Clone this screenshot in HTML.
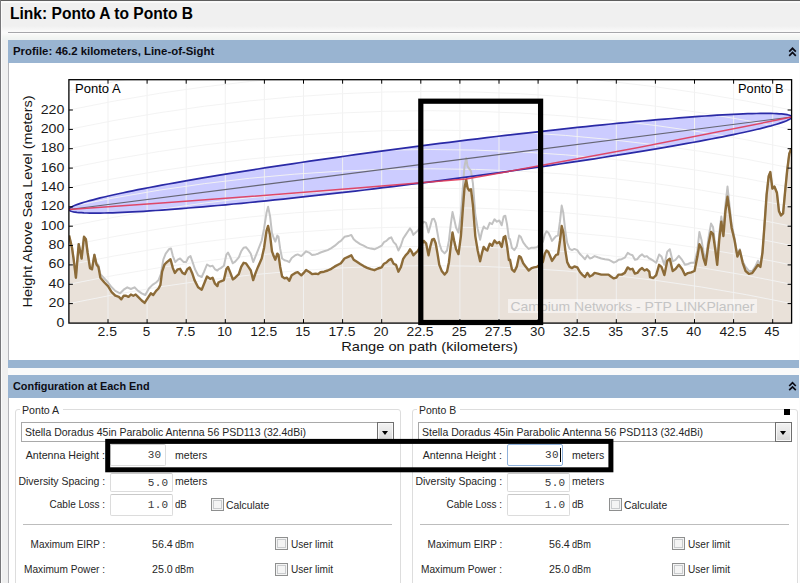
<!DOCTYPE html>
<html><head><meta charset="utf-8"><title>Link: Ponto A to Ponto B</title>
<style>
html,body{margin:0;padding:0;}
body{width:800px;height:583px;overflow:hidden;background:#f0f0f0;font-family:"Liberation Sans",sans-serif;position:relative;color:#000;}
#root{position:absolute;left:0;top:0;width:800px;height:583px;overflow:hidden;background:#f0f0f0;}
#root div{position:absolute;box-sizing:border-box;}
.rstrip{left:799px;top:33px;width:1px;height:550px;background:#fcfcfc;}
.topline2{left:1px;top:1px;width:799px;height:1.5px;background:#f9f9f9;}
.topline{left:0;top:0;width:800px;height:1px;background:#5e5e5e;}
.leftline{left:0;top:0;width:1px;height:583px;background:#77777a;}
.leftstrip{left:1px;top:1px;width:1px;height:583px;background:#fbfbfb;}
.title{font-size:15.8px !important;font-weight:bold;color:#000 !important;}
.hrbg{left:2px;top:26px;width:798px;height:14px;background:linear-gradient(#f0f0f0,#f9f9f9 36%,#fbfbfb 50%,#f4f6f4 75%,#eef2f2);}
.hr{left:8px;top:31.7px;width:792px;height:1px;background:#a6a6aa;}
.hr2{left:8px;top:33px;width:792px;height:1px;background:#fdfdfd;}
.hdr{left:8px;width:791px;background:#99b4d1;font-size:11px;font-weight:bold;white-space:nowrap;}
.hb{font-weight:bold;color:#0c0c14 !important;}
.panel{left:8px;width:791px;background:#fff;border-left:1px solid #b4b4b8;}
.chev{width:8px;height:10px;}
.gb{top:409.3px;height:200px;border:1px solid #dddddd;border-radius:3px;}
.lgbg{top:405px;height:10px;background:#fff;}
.cb{top:422px;height:20px;border:1px solid #a9a9a9;background:#fff;}
.cb .btn{right:-1px;top:-1px;width:17.5px;height:20px;border:1px solid #6f6f6f;background:linear-gradient(#f3f3f3,#e6e6e6 50%,#d6d6d6);box-shadow:inset 0 0 0 1px #f8f8f8;}
.cb .btn i{position:absolute;left:4px;top:7.5px;width:0;height:0;border-left:3.5px solid transparent;border-right:3.5px solid transparent;border-top:4px solid #000;}
.tx{font-size:11px;line-height:16px;white-space:nowrap;color:#262626;}
.in{border:1px solid #dcdcdc;border-top-color:#c9c9c9;border-radius:2px;background:#fff;font-family:"Liberation Mono",monospace;font-size:11px;text-align:right;padding-right:3px;color:#3a3a3a;letter-spacing:0.3px;}
.in.foc{border-color:#8fb2dc;padding-right:1.2px;}
.in b{display:inline-block;width:1px;height:14px;background:#000;vertical-align:middle;margin-left:1px;}
.ck{width:13px;height:13px;border:1px solid #8e8f8f;background:#f4f4f4;box-shadow:inset 0 0 0 1px #f4f4f4, inset 0 0 0 2px #c9cbcd;}
.sep{top:524px;height:1px;background:#bdbdbd;}
.ann{border:4.5px solid #000;}
.sq{left:784px;top:409px;width:6px;height:6px;background:#000;}
</style></head><body>
<div id="root">
<div class="rstrip"></div><div class="topline"></div><div class="topline2"></div><div class="leftline"></div><div class="leftstrip"></div>
<div class="tx title" id="ttl" style="top:6.3px;left:9.7px;transform-origin:0 50%;transform:scaleX(0.9853);">Link: Ponto A to Ponto B</div>
<div class="hrbg"></div><div class="hr"></div><div class="hr2"></div>
<div class="hdr" style="top:40px;height:22.5px"></div>
<div class="tx hb" id="h1" style="top:43.0px;left:13.2px;transform-origin:0 50%;transform:scaleX(1.0351);">Profile: 46.2 kilometers, Line-of-Sight</div>
<div class="panel" style="top:63px;height:297px"></div>
<div class="hdr" style="top:360px;height:8px"></div>
<div class="panel" style="top:368px;height:7px;background:#fafafa;border-left:none"></div>
<div class="hdr" style="top:375px;height:23px"></div>
<div class="tx hb" id="h2" style="top:377.8px;left:13.4px;transform-origin:0 50%;transform:scaleX(0.9890);">Configuration at Each End</div>
<div class="panel" style="top:397.5px;height:186px"></div>
<div class="gb" style="left:14.8px;width:386.0px"></div>
<div class="lgbg" style="left:20.0px;width:43px"></div>
<div class="tx" id="alg" style="top:401.9px;left:22.0px;transform-origin:0 50%;transform:scaleX(0.9651);">Ponto A</div>
<div class="cb" style="left:21.0px;width:373.0px"><div class="btn"><i></i></div></div>
<div class="tx" id="acb" style="top:424.4px;left:25.2px;transform-origin:0 50%;transform:scaleX(0.9540);">Stella Doradus 45in Parabolic Antenna 56 PSD113 (32.4dBi)</div>
<div class="tx" id="al0" style="top:446.9px;right:695.0px;transform-origin:100% 50%;transform:scaleX(0.9676);">Antenna Height :</div>
<div class="in" style="left:110.0px;top:444.0px;width:55.5px;height:21.5px;line-height:20.5px">30</div>
<div class="tx" id="au0" style="top:446.9px;left:174.8px;transform-origin:0 50%;transform:scaleX(0.9576);">meters</div>
<div class="tx" id="al1" style="top:472.9px;right:694.9px;transform-origin:100% 50%;transform:scaleX(0.9507);">Diversity Spacing :</div>
<div class="in" style="left:110.0px;top:472.5px;width:62.5px;height:19.0px;line-height:18.0px">5.0</div>
<div class="tx" id="au1" style="top:472.9px;left:174.8px;transform-origin:0 50%;transform:scaleX(0.9576);">meters</div>
<div class="tx" id="al2" style="top:496.4px;right:694.9px;transform-origin:100% 50%;transform:scaleX(0.9091);">Cable Loss :</div>
<div class="in" style="left:110.0px;top:494.0px;width:62.5px;height:21.5px;line-height:20.5px">1.0</div>
<div class="tx" id="au2" style="top:496.4px;left:174.8px;transform-origin:0 50%;transform:scaleX(0.8761);">dB</div>
<div class="ck" style="left:210.7px;top:498px"></div>
<div class="tx" id="acalc" style="top:497.1px;left:225.8px;transform-origin:0 50%;transform:scaleX(0.9420);">Calculate</div>
<div class="sep" style="left:23.0px;width:368.5px"></div>
<div class="tx" id="am0" style="top:535.9px;right:694.9px;transform-origin:100% 50%;transform:scaleX(0.9075);">Maximum EIRP :</div>
<div class="tx" id="av0" style="top:535.9px;left:151.7px;transform-origin:0 50%;transform:scaleX(0.9710);">56.4</div>
<div class="tx" id="ad0" style="top:535.9px;left:175.0px;transform-origin:0 50%;transform:scaleX(0.8309);">dBm</div>
<div class="ck" style="left:275.0px;top:537.4px"></div>
<div class="tx" id="aul0" style="top:535.9px;left:291.0px;transform-origin:0 50%;transform:scaleX(0.9162);">User limit</div>
<div class="tx" id="am1" style="top:561.4px;right:694.9px;transform-origin:100% 50%;transform:scaleX(0.9201);">Maximum Power :</div>
<div class="tx" id="av1" style="top:561.4px;left:151.7px;transform-origin:0 50%;transform:scaleX(0.9710);">25.0</div>
<div class="tx" id="ad1" style="top:561.4px;left:175.0px;transform-origin:0 50%;transform:scaleX(0.8309);">dBm</div>
<div class="ck" style="left:275.0px;top:562.9px"></div>
<div class="tx" id="aul1" style="top:561.4px;left:291.0px;transform-origin:0 50%;transform:scaleX(0.9162);">User limit</div>
<div class="gb" style="left:411.8px;width:386.2px"></div>
<div class="lgbg" style="left:417.0px;width:43px"></div>
<div class="tx" id="blg" style="top:401.9px;left:419.0px;transform-origin:0 50%;transform:scaleX(0.9504);">Ponto B</div>
<div class="cb" style="left:418.0px;width:374.0px"><div class="btn"><i></i></div></div>
<div class="tx" id="bcb" style="top:424.4px;left:422.2px;transform-origin:0 50%;transform:scaleX(0.9540);">Stella Doradus 45in Parabolic Antenna 56 PSD113 (32.4dBi)</div>
<div class="tx" id="bl0" style="top:446.9px;right:298.0px;transform-origin:100% 50%;transform:scaleX(0.9676);">Antenna Height :</div>
<div class="in foc" style="left:507.0px;top:444.0px;width:56.0px;height:21.5px;line-height:20.5px">30<b></b></div>
<div class="tx" id="bu0" style="top:446.9px;left:571.8px;transform-origin:0 50%;transform:scaleX(0.9576);">meters</div>
<div class="tx" id="bl1" style="top:472.9px;right:297.9px;transform-origin:100% 50%;transform:scaleX(0.9507);">Diversity Spacing :</div>
<div class="in" style="left:507.0px;top:472.5px;width:62.5px;height:19.0px;line-height:18.0px">5.0</div>
<div class="tx" id="bu1" style="top:472.9px;left:571.8px;transform-origin:0 50%;transform:scaleX(0.9576);">meters</div>
<div class="tx" id="bl2" style="top:496.4px;right:297.9px;transform-origin:100% 50%;transform:scaleX(0.9091);">Cable Loss :</div>
<div class="in" style="left:507.0px;top:494.0px;width:62.5px;height:21.5px;line-height:20.5px">1.0</div>
<div class="tx" id="bu2" style="top:496.4px;left:571.8px;transform-origin:0 50%;transform:scaleX(0.8761);">dB</div>
<div class="ck" style="left:608.5px;top:498px"></div>
<div class="tx" id="bcalc" style="top:497.1px;left:623.6px;transform-origin:0 50%;transform:scaleX(0.9420);">Calculate</div>
<div class="sep" style="left:420.0px;width:368.5px"></div>
<div class="tx" id="bm0" style="top:535.9px;right:297.9px;transform-origin:100% 50%;transform:scaleX(0.9075);">Maximum EIRP :</div>
<div class="tx" id="bv0" style="top:535.9px;left:548.7px;transform-origin:0 50%;transform:scaleX(0.9710);">56.4</div>
<div class="tx" id="bd0" style="top:535.9px;left:572.0px;transform-origin:0 50%;transform:scaleX(0.8309);">dBm</div>
<div class="ck" style="left:671.8px;top:537.4px"></div>
<div class="tx" id="bul0" style="top:535.9px;left:687.8px;transform-origin:0 50%;transform:scaleX(0.9162);">User limit</div>
<div class="tx" id="bm1" style="top:561.4px;right:297.9px;transform-origin:100% 50%;transform:scaleX(0.9201);">Maximum Power :</div>
<div class="tx" id="bv1" style="top:561.4px;left:548.7px;transform-origin:0 50%;transform:scaleX(0.9710);">25.0</div>
<div class="tx" id="bd1" style="top:561.4px;left:572.0px;transform-origin:0 50%;transform:scaleX(0.8309);">dBm</div>
<div class="ck" style="left:671.8px;top:562.9px"></div>
<div class="tx" id="bul1" style="top:561.4px;left:687.8px;transform-origin:0 50%;transform:scaleX(0.9162);">User limit</div>
<div class="sq"></div>
<svg width="800" height="583" viewBox="0 0 800 583" style="position:absolute;left:0;top:0">
<defs><clipPath id="cp"><rect x="68.9" y="79.7" width="722.7" height="243.4"/></clipPath></defs>
<rect x="68.9" y="79.7" width="722.7" height="243.4" fill="#fff"/>
<g clip-path="url(#cp)">
<path d="M68.9,323.1 L69.1,235.6 L72.0,247.7 L73.7,259.7 L75.9,277.7 L78.7,244.1 L81.6,258.5 L84.0,236.8 L85.9,239.2 L87.6,252.5 L90.0,268.1 L92.0,269.3 L94.4,254.9 L96.5,264.5 L98.4,266.9 L100.4,277.7 L104.4,282.5 L108.0,286.1 L111.7,292.1 L115.3,295.7 L118.9,296.9 L121.3,299.3 L123.7,295.7 L126.1,295.7 L128.5,296.9 L130.9,294.5 L133.3,295.7 L135.7,294.5 L138.1,296.9 L141.7,300.5 L144.6,302.9 L147.7,298.1 L150.8,293.3 L153.2,295.0 L156.1,290.9 L158.5,288.5 L160.4,284.9 L162.1,271.7 L164.5,264.5 L166.9,262.1 L170.5,259.2 L172.9,268.1 L174.8,272.9 L177.7,269.3 L180.1,268.8 L182.5,272.9 L184.9,274.1 L187.3,269.3 L189.7,267.4 L192.1,272.9 L194.5,280.1 L198.1,287.3 L201.7,289.7 L204.1,283.7 L207.0,276.5 L210.2,278.9 L212.6,277.7 L215.0,283.7 L217.4,286.1 L218.4,282.5 L220.8,281.3 L223.9,280.1 L226.3,269.3 L228.0,266.9 L230.4,272.9 L232.8,279.4 L235.2,277.7 L238.8,274.1 L241.2,266.9 L243.6,262.8 L246.0,263.3 L248.4,266.9 L250.8,270.5 L253.2,280.1 L255.6,272.9 L258.0,266.9 L261.7,258.5 L264.1,247.7 L266.5,230.8 L268.1,226.0 L270.1,235.6 L272.0,251.3 L273.7,256.1 L275.3,259.7 L277.3,253.7 L278.5,254.9 L280.2,266.9 L282.1,276.5 L284.5,278.4 L286.9,277.7 L289.3,280.8 L291.7,275.3 L295.3,272.9 L297.7,272.2 L301.3,275.3 L303.7,272.9 L306.1,270.0 L309.7,272.2 L312.1,274.1 L315.7,273.6 L318.1,274.1 L320.5,272.2 L324.1,271.7 L327.7,270.5 L331.3,268.8 L334.9,266.4 L338.5,264.5 L340.9,263.3 L344.5,258.5 L348.1,256.8 L351.3,255.3 L353.7,259.7 L356.5,261.6 L360.2,264.0 L363.6,266.1 L367.2,267.8 L370.8,269.2 L374.4,270.2 L378.0,268.5 L381.6,267.3 L384.0,263.7 L386.4,262.5 L388.8,260.1 L391.2,258.9 L393.6,263.7 L396.0,264.9 L398.4,271.7 L400.8,267.3 L403.2,258.9 L405.6,255.3 L408.0,252.9 L410.0,249.3 L411.7,251.7 L413.3,255.3 L415.7,252.9 L417.7,251.0 L423.7,240.9 L426.1,243.3 L428.5,255.3 L430.2,246.9 L432.1,239.7 L434.0,239.0 L435.7,243.3 L437.4,252.9 L439.3,264.9 L441.7,270.9 L444.6,274.5 L447.0,271.7 L448.9,262.5 L450.8,245.7 L452.5,232.5 L454.2,240.9 L456.1,249.3 L458.5,254.1 L460.9,236.1 L462.8,209.7 L464.5,188.0 L466.2,179.6 L467.6,188.0 L469.3,190.5 L471.0,189.2 L472.9,204.9 L475.3,236.1 L477.7,250.5 L480.1,261.3 L482.0,252.9 L483.7,246.9 L485.4,249.3 L487.3,250.5 L489.7,243.8 L492.1,245.7 L494.5,240.4 L496.9,243.3 L499.3,242.1 L501.7,246.9 L503.7,237.3 L505.3,236.1 L507.0,245.7 L508.9,260.1 L510.0,259.7 L511.9,269.3 L514.3,271.7 L516.7,266.9 L519.1,256.1 L520.8,257.3 L523.2,263.3 L525.6,266.4 L528.7,270.5 L531.6,268.1 L534.0,267.4 L536.9,266.9 L542.9,262.1 L544.8,253.7 L546.5,250.5 L548.4,252.0 L550.4,256.8 L552.0,260.9 L554.4,257.3 L556.1,254.9 L558.0,254.4 L560.0,240.5 L561.7,226.0 L563.3,232.0 L565.3,250.1 L567.2,262.1 L569.6,266.9 L572.0,268.1 L574.4,266.4 L577.3,267.4 L579.7,271.7 L582.1,274.6 L585.0,277.0 L587.4,272.9 L589.8,276.5 L592.2,275.3 L594.6,272.9 L597.7,273.6 L601.3,274.6 L604.9,274.6 L608.5,274.6 L610.9,276.5 L613.8,278.4 L616.2,277.7 L618.6,274.6 L621.7,274.6 L624.8,272.9 L627.7,267.4 L630.1,269.3 L632.5,268.8 L634.9,273.6 L637.3,272.9 L639.7,269.8 L642.1,268.1 L644.5,270.5 L646.9,269.3 L649.3,271.7 L650.0,277.2 L653.3,278.0 L656.2,275.1 L659.1,264.8 L661.5,266.9 L664.4,275.1 L667.3,260.7 L669.8,258.7 L672.7,271.0 L675.5,269.0 L678.8,264.8 L682.1,269.0 L685.0,275.1 L687.9,273.1 L691.2,272.3 L694.5,271.0 L697.4,256.6 L699.4,244.2 L701.5,248.3 L703.6,258.7 L705.6,264.8 L708.5,244.2 L711.0,231.9 L713.0,233.9 L715.1,248.3 L717.2,264.8 L719.2,240.1 L721.3,221.6 L723.4,236.0 L725.4,211.3 L727.5,196.8 L729.5,211.3 L731.6,227.7 L734.5,240.1 L737.4,256.6 L739.8,250.4 L742.7,262.8 L745.6,271.0 L748.9,273.9 L752.2,273.1 L755.1,269.0 L758.0,264.8 L760.4,266.9 L762.5,252.5 L764.6,223.6 L766.6,194.8 L768.7,176.2 L770.3,172.1 L772.4,188.6 L774.4,186.5 L776.9,192.7 L779.0,211.3 L781.0,215.4 L783.1,213.3 L785.2,190.7 L787.2,170.1 L789.3,153.6 L791.3,148.6 L791.6,323.1Z" fill="#e9e1d9"/>
<path d="M69.0,209.5 L69.1,209.0 L69.5,208.5 L70.1,207.9 L71.0,207.3 L72.1,206.7 L73.4,206.0 L75.1,205.3 L76.9,204.6 L79.0,203.9 L81.3,203.1 L83.9,202.3 L86.7,201.5 L89.7,200.6 L93.0,199.8 L96.5,198.9 L100.2,197.9 L104.2,197.0 L108.4,196.0 L112.8,195.0 L117.4,194.0 L122.2,193.0 L127.3,191.9 L132.5,190.8 L138.0,189.7 L143.7,188.6 L149.5,187.5 L155.6,186.3 L161.8,185.2 L168.2,184.0 L174.8,182.8 L181.6,181.6 L188.5,180.4 L195.7,179.1 L202.9,177.9 L210.4,176.6 L217.9,175.4 L225.7,174.1 L233.5,172.8 L241.5,171.6 L249.6,170.3 L257.9,169.0 L266.3,167.7 L274.8,166.4 L283.3,165.1 L292.0,163.8 L300.8,162.5 L309.7,161.2 L318.7,159.9 L327.7,158.6 L336.8,157.3 L346.0,156.0 L355.2,154.7 L364.5,153.4 L373.8,152.1 L383.1,150.8 L392.5,149.6 L402.0,148.3 L411.4,147.1 L420.8,145.9 L430.3,144.7 L439.8,143.4 L449.2,142.3 L458.6,141.1 L468.1,139.9 L477.5,138.8 L486.8,137.6 L496.1,136.5 L505.4,135.4 L514.6,134.4 L523.8,133.3 L532.9,132.3 L541.9,131.3 L550.9,130.3 L559.8,129.3 L568.6,128.4 L577.3,127.4 L585.8,126.6 L594.3,125.7 L602.7,124.8 L610.9,124.0 L619.1,123.2 L627.1,122.5 L634.9,121.7 L642.7,121.0 L650.2,120.3 L657.7,119.7 L664.9,119.1 L672.1,118.5 L679.0,117.9 L685.8,117.4 L692.4,116.9 L698.8,116.4 L705.0,116.0 L711.1,115.6 L716.9,115.2 L722.6,114.9 L728.1,114.6 L733.3,114.3 L738.4,114.1 L743.2,113.9 L747.8,113.7 L752.2,113.6 L756.4,113.5 L760.4,113.4 L764.1,113.4 L767.6,113.4 L770.9,113.4 L773.9,113.5 L776.7,113.6 L779.3,113.8 L781.6,113.9 L783.7,114.1 L785.5,114.4 L787.2,114.7 L788.5,115.0 L789.6,115.3 L790.5,115.7 L791.1,116.1 L791.5,116.5 L791.6,117.0 L791.6,117.0 L791.5,117.5 L791.1,118.0 L790.5,118.6 L789.6,119.2 L788.5,119.8 L787.2,120.5 L785.5,121.2 L783.7,121.9 L781.6,122.6 L779.3,123.4 L776.7,124.2 L773.9,125.0 L770.9,125.9 L767.6,126.7 L764.1,127.6 L760.4,128.6 L756.4,129.5 L752.2,130.5 L747.8,131.5 L743.2,132.5 L738.4,133.5 L733.3,134.6 L728.1,135.7 L722.6,136.8 L716.9,137.9 L711.1,139.0 L705.0,140.2 L698.8,141.3 L692.4,142.5 L685.8,143.7 L679.0,144.9 L672.1,146.1 L664.9,147.4 L657.7,148.6 L650.2,149.9 L642.7,151.1 L634.9,152.4 L627.1,153.7 L619.1,154.9 L610.9,156.2 L602.7,157.5 L594.3,158.8 L585.8,160.1 L577.3,161.4 L568.6,162.7 L559.8,164.0 L550.9,165.3 L541.9,166.6 L532.9,167.9 L523.8,169.2 L514.6,170.5 L505.4,171.8 L496.1,173.1 L486.8,174.4 L477.5,175.7 L468.1,176.9 L458.6,178.2 L449.2,179.4 L439.8,180.6 L430.3,181.8 L420.8,183.1 L411.4,184.2 L402.0,185.4 L392.5,186.6 L383.1,187.7 L373.8,188.9 L364.5,190.0 L355.2,191.1 L346.0,192.1 L336.8,193.2 L327.7,194.2 L318.7,195.2 L309.7,196.2 L300.8,197.2 L292.0,198.1 L283.3,199.1 L274.8,199.9 L266.3,200.8 L257.9,201.7 L249.6,202.5 L241.5,203.3 L233.5,204.0 L225.7,204.8 L217.9,205.5 L210.4,206.2 L202.9,206.8 L195.7,207.4 L188.5,208.0 L181.6,208.6 L174.8,209.1 L168.2,209.6 L161.8,210.1 L155.6,210.5 L149.5,210.9 L143.7,211.3 L138.0,211.6 L132.5,211.9 L127.3,212.2 L122.2,212.4 L117.4,212.6 L112.8,212.8 L108.4,212.9 L104.2,213.0 L100.2,213.1 L96.5,213.1 L93.0,213.1 L89.7,213.1 L86.7,213.0 L83.9,212.9 L81.3,212.7 L79.0,212.6 L76.9,212.4 L75.1,212.1 L73.4,211.8 L72.1,211.5 L71.0,211.2 L70.1,210.8 L69.5,210.4 L69.1,210.0 L69.0,209.5Z" fill="#0000ff" fill-opacity="0.2" stroke="none"/>
<line x1="108.0" y1="79.7" x2="108.0" y2="323.1" stroke="#f0f0f0" stroke-opacity="0.95" stroke-width="1"/>
<line x1="147.1" y1="79.7" x2="147.1" y2="323.1" stroke="#f0f0f0" stroke-opacity="0.95" stroke-width="1"/>
<line x1="186.2" y1="79.7" x2="186.2" y2="323.1" stroke="#f0f0f0" stroke-opacity="0.95" stroke-width="1"/>
<line x1="225.3" y1="79.7" x2="225.3" y2="323.1" stroke="#f0f0f0" stroke-opacity="0.95" stroke-width="1"/>
<line x1="264.4" y1="79.7" x2="264.4" y2="323.1" stroke="#f0f0f0" stroke-opacity="0.95" stroke-width="1"/>
<line x1="303.5" y1="79.7" x2="303.5" y2="323.1" stroke="#f0f0f0" stroke-opacity="0.95" stroke-width="1"/>
<line x1="342.6" y1="79.7" x2="342.6" y2="323.1" stroke="#f0f0f0" stroke-opacity="0.95" stroke-width="1"/>
<line x1="381.7" y1="79.7" x2="381.7" y2="323.1" stroke="#f0f0f0" stroke-opacity="0.95" stroke-width="1"/>
<line x1="420.8" y1="79.7" x2="420.8" y2="323.1" stroke="#f0f0f0" stroke-opacity="0.95" stroke-width="1"/>
<line x1="459.9" y1="79.7" x2="459.9" y2="323.1" stroke="#f0f0f0" stroke-opacity="0.95" stroke-width="1"/>
<line x1="499.0" y1="79.7" x2="499.0" y2="323.1" stroke="#f0f0f0" stroke-opacity="0.95" stroke-width="1"/>
<line x1="538.1" y1="79.7" x2="538.1" y2="323.1" stroke="#f0f0f0" stroke-opacity="0.95" stroke-width="1"/>
<line x1="577.2" y1="79.7" x2="577.2" y2="323.1" stroke="#f0f0f0" stroke-opacity="0.95" stroke-width="1"/>
<line x1="616.3" y1="79.7" x2="616.3" y2="323.1" stroke="#f0f0f0" stroke-opacity="0.95" stroke-width="1"/>
<line x1="655.4" y1="79.7" x2="655.4" y2="323.1" stroke="#f0f0f0" stroke-opacity="0.95" stroke-width="1"/>
<line x1="694.5" y1="79.7" x2="694.5" y2="323.1" stroke="#f0f0f0" stroke-opacity="0.95" stroke-width="1"/>
<line x1="733.6" y1="79.7" x2="733.6" y2="323.1" stroke="#f0f0f0" stroke-opacity="0.95" stroke-width="1"/>
<line x1="772.7" y1="79.7" x2="772.7" y2="323.1" stroke="#f0f0f0" stroke-opacity="0.95" stroke-width="1"/>
<path d="M68.9,303.6 Q430.2,227.6 791.6,303.6" fill="none" stroke="#f2f2f2" stroke-opacity="0.95" stroke-width="1"/>
<path d="M68.9,284.3 Q430.2,208.3 791.6,284.3" fill="none" stroke="#f2f2f2" stroke-opacity="0.95" stroke-width="1"/>
<path d="M68.9,264.9 Q430.2,188.9 791.6,264.9" fill="none" stroke="#f2f2f2" stroke-opacity="0.95" stroke-width="1"/>
<path d="M68.9,245.5 Q430.2,169.5 791.6,245.5" fill="none" stroke="#f2f2f2" stroke-opacity="0.95" stroke-width="1"/>
<path d="M68.9,226.2 Q430.2,150.2 791.6,226.2" fill="none" stroke="#f2f2f2" stroke-opacity="0.95" stroke-width="1"/>
<path d="M68.9,206.8 Q430.2,130.8 791.6,206.8" fill="none" stroke="#f2f2f2" stroke-opacity="0.95" stroke-width="1"/>
<path d="M68.9,187.5 Q430.2,111.5 791.6,187.5" fill="none" stroke="#f2f2f2" stroke-opacity="0.95" stroke-width="1"/>
<path d="M68.9,168.1 Q430.2,92.1 791.6,168.1" fill="none" stroke="#f2f2f2" stroke-opacity="0.95" stroke-width="1"/>
<path d="M68.9,148.7 Q430.2,72.7 791.6,148.7" fill="none" stroke="#f2f2f2" stroke-opacity="0.95" stroke-width="1"/>
<path d="M68.9,129.4 Q430.2,53.4 791.6,129.4" fill="none" stroke="#f2f2f2" stroke-opacity="0.95" stroke-width="1"/>
<path d="M68.9,110.0 Q430.2,34.0 791.6,110.0" fill="none" stroke="#f2f2f2" stroke-opacity="0.95" stroke-width="1"/>
<path d="M68.9,90.6 Q430.2,14.6 791.6,90.6" fill="none" stroke="#f2f2f2" stroke-opacity="0.95" stroke-width="1"/>
<path d="M68.9,71.3 Q430.2,-4.7 791.6,71.3" fill="none" stroke="#f2f2f2" stroke-opacity="0.95" stroke-width="1"/>
<path d="M68.9,51.9 Q430.2,-24.1 791.6,51.9" fill="none" stroke="#f2f2f2" stroke-opacity="0.95" stroke-width="1"/>
<path d="M68.9,32.5 Q430.2,-43.5 791.6,32.5" fill="none" stroke="#f2f2f2" stroke-opacity="0.95" stroke-width="1"/>
<path d="M68.9,13.2 Q430.2,-62.8 791.6,13.2" fill="none" stroke="#f2f2f2" stroke-opacity="0.95" stroke-width="1"/>
<path d="M68.9,-6.2 Q430.2,-82.2 791.6,-6.2" fill="none" stroke="#f2f2f2" stroke-opacity="0.95" stroke-width="1"/>
<path d="M68.9,-25.6 Q430.2,-101.6 791.6,-25.6" fill="none" stroke="#f2f2f2" stroke-opacity="0.95" stroke-width="1"/>
<path d="M68.9,-44.9 Q430.2,-120.9 791.6,-44.9" fill="none" stroke="#f2f2f2" stroke-opacity="0.95" stroke-width="1"/>
<path d="M69.1,235.6 L72.0,247.7 L73.7,259.7 L75.9,277.7 L78.7,244.1 L81.6,258.5 L84.0,236.8 L85.9,239.2 L87.6,252.5 L90.0,268.1 L92.0,269.3 L94.4,254.4 L96.5,263.3 L98.4,265.0 L100.4,274.1 L108.0,282.5 L111.7,287.3 L115.3,290.9 L120.1,293.3 L123.7,289.7 L127.3,287.3 L130.9,289.0 L134.5,287.3 L138.1,290.9 L141.7,293.3 L145.3,295.0 L148.9,288.5 L152.5,284.9 L156.1,282.5 L158.5,280.1 L160.9,274.1 L163.3,259.7 L165.7,253.7 L169.3,248.9 L171.0,248.4 L172.9,256.1 L175.3,262.1 L177.7,259.7 L180.1,258.5 L183.7,262.1 L186.1,262.1 L188.5,257.3 L190.5,256.1 L192.6,262.1 L195.0,269.3 L198.1,275.3 L201.7,277.0 L204.1,271.7 L207.0,264.5 L210.2,266.4 L212.6,265.7 L215.0,269.3 L217.4,270.5 L218.4,269.3 L220.8,268.1 L223.9,265.7 L226.3,254.9 L228.0,252.5 L230.4,257.3 L232.8,263.3 L235.2,261.6 L238.8,257.3 L241.2,251.3 L243.6,247.7 L246.0,247.2 L248.4,250.1 L250.8,253.7 L253.2,262.1 L255.6,256.1 L258.0,250.1 L261.7,240.5 L264.1,228.4 L266.5,212.8 L268.1,206.8 L270.1,216.4 L272.0,233.2 L273.7,238.0 L275.3,241.7 L277.3,235.6 L278.5,236.8 L280.2,248.9 L282.1,258.5 L284.5,260.2 L286.9,260.9 L289.3,262.1 L291.7,258.0 L295.3,255.3 L297.7,254.4 L301.3,256.1 L303.7,253.7 L306.1,251.3 L309.7,252.9 L312.1,254.9 L315.7,254.4 L318.1,253.7 L320.5,252.5 L324.1,251.3 L327.7,250.1 L331.3,248.1 L334.9,245.7 L338.5,242.4 L340.9,240.9 L344.5,236.8 L348.1,236.1 L351.3,234.9 L353.7,239.2 L356.5,241.7 L360.2,244.1 L363.6,245.7 L367.2,247.6 L370.8,248.6 L374.4,249.3 L378.0,247.6 L381.6,245.7 L384.0,242.1 L386.4,240.9 L388.8,238.5 L391.2,237.3 L393.6,242.1 L396.0,244.5 L398.4,250.5 L400.8,245.7 L403.2,238.5 L405.6,234.9 L408.0,231.3 L410.0,228.4 L411.7,230.8 L413.3,234.9 L415.7,232.5 L417.7,230.8 L423.7,221.7 L426.1,222.9 L428.5,232.5 L430.2,226.5 L432.1,219.3 L434.0,218.8 L435.7,222.9 L437.4,232.5 L439.3,243.3 L441.7,250.5 L444.6,253.4 L447.0,250.5 L448.9,240.9 L450.8,224.1 L452.5,212.1 L454.2,219.3 L456.1,227.7 L458.5,232.5 L460.9,214.5 L462.8,188.0 L464.5,166.4 L466.2,158.0 L467.6,166.4 L469.3,168.8 L471.0,171.2 L472.9,183.2 L475.3,214.5 L477.7,228.9 L480.1,239.7 L482.0,231.3 L483.7,226.5 L485.4,228.4 L487.3,228.9 L489.7,222.9 L492.1,224.1 L494.5,219.3 L496.9,221.7 L499.3,220.5 L501.7,225.3 L503.7,216.4 L505.3,215.7 L507.0,224.1 L508.9,238.5 L510.0,239.2 L511.9,247.7 L514.3,250.1 L516.7,246.5 L519.1,235.6 L520.8,236.8 L523.2,242.4 L525.6,245.7 L528.7,248.9 L531.6,247.7 L534.0,247.7 L536.9,247.2 L542.9,241.7 L544.8,234.4 L546.5,231.3 L548.4,232.8 L550.4,236.8 L552.0,240.9 L554.4,238.0 L556.1,236.1 L558.0,235.6 L560.0,221.2 L561.7,205.6 L563.3,212.8 L565.3,230.8 L567.2,242.9 L569.6,248.9 L572.0,250.1 L574.4,248.9 L577.3,250.1 L579.7,253.7 L582.1,256.1 L585.0,259.2 L587.4,255.3 L589.8,258.5 L592.2,257.7 L594.6,256.1 L597.7,257.3 L601.3,258.5 L604.9,259.2 L608.5,259.7 L610.9,260.9 L613.8,262.6 L616.2,261.6 L618.6,259.7 L621.7,259.2 L624.8,257.7 L627.7,252.9 L630.1,254.4 L632.5,255.3 L634.9,259.7 L637.3,259.2 L639.7,256.1 L642.1,254.4 L644.5,256.8 L646.9,256.1 L649.3,258.5 L650.0,258.7 L653.3,260.7 L656.2,262.8 L659.1,254.5 L661.5,256.6 L664.4,264.8 L667.3,251.6 L669.8,249.2 L672.7,261.5 L675.5,259.9 L678.8,255.8 L682.1,259.9 L685.0,264.8 L687.9,264.0 L691.2,262.8 L694.5,262.8 L697.4,250.4 L699.4,231.9 L701.5,240.1 L703.6,252.5 L705.6,260.7 L708.5,238.0 L711.0,223.6 L713.0,226.9 L715.1,244.2 L717.2,260.7 L719.2,233.9 L721.3,216.6 L723.4,231.0 L725.4,205.1 L727.5,186.5 L729.5,205.1 L731.6,223.6 L734.5,238.0 L737.4,255.8 L739.8,249.2 L742.7,261.5 L745.6,266.9 L748.9,271.0 L752.2,271.0 L755.1,266.9 L758.0,260.7 L760.4,264.8 L762.5,251.6 L764.6,223.6 L766.6,194.8 L768.7,176.2 L770.3,172.1 L772.4,188.6 L774.4,186.5 L776.9,192.7 L779.0,211.3 L781.0,215.4 L783.1,213.3 L785.2,190.7 L787.2,170.1 L789.3,153.6 L791.3,148.6" fill="none" stroke="#c2c2c2" stroke-width="2" stroke-linejoin="round"/>
<path d="M69.1,235.6 L72.0,247.7 L73.7,259.7 L75.9,277.7 L78.7,244.1 L81.6,258.5 L84.0,236.8 L85.9,239.2 L87.6,252.5 L90.0,268.1 L92.0,269.3 L94.4,254.9 L96.5,264.5 L98.4,266.9 L100.4,277.7 L104.4,282.5 L108.0,286.1 L111.7,292.1 L115.3,295.7 L118.9,296.9 L121.3,299.3 L123.7,295.7 L126.1,295.7 L128.5,296.9 L130.9,294.5 L133.3,295.7 L135.7,294.5 L138.1,296.9 L141.7,300.5 L144.6,302.9 L147.7,298.1 L150.8,293.3 L153.2,295.0 L156.1,290.9 L158.5,288.5 L160.4,284.9 L162.1,271.7 L164.5,264.5 L166.9,262.1 L170.5,259.2 L172.9,268.1 L174.8,272.9 L177.7,269.3 L180.1,268.8 L182.5,272.9 L184.9,274.1 L187.3,269.3 L189.7,267.4 L192.1,272.9 L194.5,280.1 L198.1,287.3 L201.7,289.7 L204.1,283.7 L207.0,276.5 L210.2,278.9 L212.6,277.7 L215.0,283.7 L217.4,286.1 L218.4,282.5 L220.8,281.3 L223.9,280.1 L226.3,269.3 L228.0,266.9 L230.4,272.9 L232.8,279.4 L235.2,277.7 L238.8,274.1 L241.2,266.9 L243.6,262.8 L246.0,263.3 L248.4,266.9 L250.8,270.5 L253.2,280.1 L255.6,272.9 L258.0,266.9 L261.7,258.5 L264.1,247.7 L266.5,230.8 L268.1,226.0 L270.1,235.6 L272.0,251.3 L273.7,256.1 L275.3,259.7 L277.3,253.7 L278.5,254.9 L280.2,266.9 L282.1,276.5 L284.5,278.4 L286.9,277.7 L289.3,280.8 L291.7,275.3 L295.3,272.9 L297.7,272.2 L301.3,275.3 L303.7,272.9 L306.1,270.0 L309.7,272.2 L312.1,274.1 L315.7,273.6 L318.1,274.1 L320.5,272.2 L324.1,271.7 L327.7,270.5 L331.3,268.8 L334.9,266.4 L338.5,264.5 L340.9,263.3 L344.5,258.5 L348.1,256.8 L351.3,255.3 L353.7,259.7 L356.5,261.6 L360.2,264.0 L363.6,266.1 L367.2,267.8 L370.8,269.2 L374.4,270.2 L378.0,268.5 L381.6,267.3 L384.0,263.7 L386.4,262.5 L388.8,260.1 L391.2,258.9 L393.6,263.7 L396.0,264.9 L398.4,271.7 L400.8,267.3 L403.2,258.9 L405.6,255.3 L408.0,252.9 L410.0,249.3 L411.7,251.7 L413.3,255.3 L415.7,252.9 L417.7,251.0 L423.7,240.9 L426.1,243.3 L428.5,255.3 L430.2,246.9 L432.1,239.7 L434.0,239.0 L435.7,243.3 L437.4,252.9 L439.3,264.9 L441.7,270.9 L444.6,274.5 L447.0,271.7 L448.9,262.5 L450.8,245.7 L452.5,232.5 L454.2,240.9 L456.1,249.3 L458.5,254.1 L460.9,236.1 L462.8,209.7 L464.5,188.0 L466.2,179.6 L467.6,188.0 L469.3,190.5 L471.0,189.2 L472.9,204.9 L475.3,236.1 L477.7,250.5 L480.1,261.3 L482.0,252.9 L483.7,246.9 L485.4,249.3 L487.3,250.5 L489.7,243.8 L492.1,245.7 L494.5,240.4 L496.9,243.3 L499.3,242.1 L501.7,246.9 L503.7,237.3 L505.3,236.1 L507.0,245.7 L508.9,260.1 L510.0,259.7 L511.9,269.3 L514.3,271.7 L516.7,266.9 L519.1,256.1 L520.8,257.3 L523.2,263.3 L525.6,266.4 L528.7,270.5 L531.6,268.1 L534.0,267.4 L536.9,266.9 L542.9,262.1 L544.8,253.7 L546.5,250.5 L548.4,252.0 L550.4,256.8 L552.0,260.9 L554.4,257.3 L556.1,254.9 L558.0,254.4 L560.0,240.5 L561.7,226.0 L563.3,232.0 L565.3,250.1 L567.2,262.1 L569.6,266.9 L572.0,268.1 L574.4,266.4 L577.3,267.4 L579.7,271.7 L582.1,274.6 L585.0,277.0 L587.4,272.9 L589.8,276.5 L592.2,275.3 L594.6,272.9 L597.7,273.6 L601.3,274.6 L604.9,274.6 L608.5,274.6 L610.9,276.5 L613.8,278.4 L616.2,277.7 L618.6,274.6 L621.7,274.6 L624.8,272.9 L627.7,267.4 L630.1,269.3 L632.5,268.8 L634.9,273.6 L637.3,272.9 L639.7,269.8 L642.1,268.1 L644.5,270.5 L646.9,269.3 L649.3,271.7 L650.0,277.2 L653.3,278.0 L656.2,275.1 L659.1,264.8 L661.5,266.9 L664.4,275.1 L667.3,260.7 L669.8,258.7 L672.7,271.0 L675.5,269.0 L678.8,264.8 L682.1,269.0 L685.0,275.1 L687.9,273.1 L691.2,272.3 L694.5,271.0 L697.4,256.6 L699.4,244.2 L701.5,248.3 L703.6,258.7 L705.6,264.8 L708.5,244.2 L711.0,231.9 L713.0,233.9 L715.1,248.3 L717.2,264.8 L719.2,240.1 L721.3,221.6 L723.4,236.0 L725.4,211.3 L727.5,196.8 L729.5,211.3 L731.6,227.7 L734.5,240.1 L737.4,256.6 L739.8,250.4 L742.7,262.8 L745.6,271.0 L748.9,273.9 L752.2,273.1 L755.1,269.0 L758.0,264.8 L760.4,266.9 L762.5,252.5 L764.6,223.6 L766.6,194.8 L768.7,176.2 L770.3,172.1 L772.4,188.6 L774.4,186.5 L776.9,192.7 L779.0,211.3 L781.0,215.4 L783.1,213.3 L785.2,190.7 L787.2,170.1 L789.3,153.6 L791.3,148.6" fill="none" stroke="#8c6b38" stroke-width="2.4" stroke-linejoin="round"/>
<path d="M69.0,209.5 L69.1,209.0 L69.5,208.5 L70.1,207.9 L71.0,207.3 L72.1,206.7 L73.4,206.0 L75.1,205.3 L76.9,204.6 L79.0,203.9 L81.3,203.1 L83.9,202.3 L86.7,201.5 L89.7,200.6 L93.0,199.8 L96.5,198.9 L100.2,197.9 L104.2,197.0 L108.4,196.0 L112.8,195.0 L117.4,194.0 L122.2,193.0 L127.3,191.9 L132.5,190.8 L138.0,189.7 L143.7,188.6 L149.5,187.5 L155.6,186.3 L161.8,185.2 L168.2,184.0 L174.8,182.8 L181.6,181.6 L188.5,180.4 L195.7,179.1 L202.9,177.9 L210.4,176.6 L217.9,175.4 L225.7,174.1 L233.5,172.8 L241.5,171.6 L249.6,170.3 L257.9,169.0 L266.3,167.7 L274.8,166.4 L283.3,165.1 L292.0,163.8 L300.8,162.5 L309.7,161.2 L318.7,159.9 L327.7,158.6 L336.8,157.3 L346.0,156.0 L355.2,154.7 L364.5,153.4 L373.8,152.1 L383.1,150.8 L392.5,149.6 L402.0,148.3 L411.4,147.1 L420.8,145.9 L430.3,144.7 L439.8,143.4 L449.2,142.3 L458.6,141.1 L468.1,139.9 L477.5,138.8 L486.8,137.6 L496.1,136.5 L505.4,135.4 L514.6,134.4 L523.8,133.3 L532.9,132.3 L541.9,131.3 L550.9,130.3 L559.8,129.3 L568.6,128.4 L577.3,127.4 L585.8,126.6 L594.3,125.7 L602.7,124.8 L610.9,124.0 L619.1,123.2 L627.1,122.5 L634.9,121.7 L642.7,121.0 L650.2,120.3 L657.7,119.7 L664.9,119.1 L672.1,118.5 L679.0,117.9 L685.8,117.4 L692.4,116.9 L698.8,116.4 L705.0,116.0 L711.1,115.6 L716.9,115.2 L722.6,114.9 L728.1,114.6 L733.3,114.3 L738.4,114.1 L743.2,113.9 L747.8,113.7 L752.2,113.6 L756.4,113.5 L760.4,113.4 L764.1,113.4 L767.6,113.4 L770.9,113.4 L773.9,113.5 L776.7,113.6 L779.3,113.8 L781.6,113.9 L783.7,114.1 L785.5,114.4 L787.2,114.7 L788.5,115.0 L789.6,115.3 L790.5,115.7 L791.1,116.1 L791.5,116.5 L791.6,117.0 L791.6,117.0 L791.5,117.5 L791.1,118.0 L790.5,118.6 L789.6,119.2 L788.5,119.8 L787.2,120.5 L785.5,121.2 L783.7,121.9 L781.6,122.6 L779.3,123.4 L776.7,124.2 L773.9,125.0 L770.9,125.9 L767.6,126.7 L764.1,127.6 L760.4,128.6 L756.4,129.5 L752.2,130.5 L747.8,131.5 L743.2,132.5 L738.4,133.5 L733.3,134.6 L728.1,135.7 L722.6,136.8 L716.9,137.9 L711.1,139.0 L705.0,140.2 L698.8,141.3 L692.4,142.5 L685.8,143.7 L679.0,144.9 L672.1,146.1 L664.9,147.4 L657.7,148.6 L650.2,149.9 L642.7,151.1 L634.9,152.4 L627.1,153.7 L619.1,154.9 L610.9,156.2 L602.7,157.5 L594.3,158.8 L585.8,160.1 L577.3,161.4 L568.6,162.7 L559.8,164.0 L550.9,165.3 L541.9,166.6 L532.9,167.9 L523.8,169.2 L514.6,170.5 L505.4,171.8 L496.1,173.1 L486.8,174.4 L477.5,175.7 L468.1,176.9 L458.6,178.2 L449.2,179.4 L439.8,180.6 L430.3,181.8 L420.8,183.1 L411.4,184.2 L402.0,185.4 L392.5,186.6 L383.1,187.7 L373.8,188.9 L364.5,190.0 L355.2,191.1 L346.0,192.1 L336.8,193.2 L327.7,194.2 L318.7,195.2 L309.7,196.2 L300.8,197.2 L292.0,198.1 L283.3,199.1 L274.8,199.9 L266.3,200.8 L257.9,201.7 L249.6,202.5 L241.5,203.3 L233.5,204.0 L225.7,204.8 L217.9,205.5 L210.4,206.2 L202.9,206.8 L195.7,207.4 L188.5,208.0 L181.6,208.6 L174.8,209.1 L168.2,209.6 L161.8,210.1 L155.6,210.5 L149.5,210.9 L143.7,211.3 L138.0,211.6 L132.5,211.9 L127.3,212.2 L122.2,212.4 L117.4,212.6 L112.8,212.8 L108.4,212.9 L104.2,213.0 L100.2,213.1 L96.5,213.1 L93.0,213.1 L89.7,213.1 L86.7,213.0 L83.9,212.9 L81.3,212.7 L79.0,212.6 L76.9,212.4 L75.1,212.1 L73.4,211.8 L72.1,211.5 L71.0,211.2 L70.1,210.8 L69.5,210.4 L69.1,210.0 L69.0,209.5Z" fill="none" stroke="#2a2aa6" stroke-width="1.7"/>
<line x1="69" y1="209.5" x2="791.6" y2="117" stroke="#666674" stroke-width="1.15"/>
<path d="M69,209.5 Q267,196 466,179 Q629,150.5 791.6,117" fill="none" stroke="#e03858" stroke-opacity="0.9" stroke-width="1.5"/>
</g>
<rect x="508" y="299" width="249" height="14" fill="#ffffff" fill-opacity="0.55"/>
<text x="632.5" y="311" font-family="Liberation Sans, sans-serif" font-size="13.2" fill="#c4c4c4" text-anchor="middle" textLength="244" lengthAdjust="spacingAndGlyphs">Cambium Networks - PTP LINKPlanner</text>
<rect x="68.9" y="79.7" width="722.7" height="243.4" fill="none" stroke="#000" stroke-width="1.3"/>
<line x1="108.0" y1="319.1" x2="108.0" y2="323.1" stroke="#000" stroke-width="1"/>
<line x1="108.0" y1="79.7" x2="108.0" y2="83.7" stroke="#000" stroke-width="1"/>
<text x="107.3" y="335.7" font-family="Liberation Sans, sans-serif" font-size="12.8" fill="#1a1a1a" text-anchor="middle" textLength="19.5" lengthAdjust="spacingAndGlyphs">2.5</text>
<line x1="147.1" y1="319.1" x2="147.1" y2="323.1" stroke="#000" stroke-width="1"/>
<line x1="147.1" y1="79.7" x2="147.1" y2="83.7" stroke="#000" stroke-width="1"/>
<text x="146.4" y="335.7" font-family="Liberation Sans, sans-serif" font-size="12.8" fill="#1a1a1a" text-anchor="middle" textLength="7.5" lengthAdjust="spacingAndGlyphs">5</text>
<line x1="186.2" y1="319.1" x2="186.2" y2="323.1" stroke="#000" stroke-width="1"/>
<line x1="186.2" y1="79.7" x2="186.2" y2="83.7" stroke="#000" stroke-width="1"/>
<text x="185.5" y="335.7" font-family="Liberation Sans, sans-serif" font-size="12.8" fill="#1a1a1a" text-anchor="middle" textLength="19.5" lengthAdjust="spacingAndGlyphs">7.5</text>
<line x1="225.3" y1="319.1" x2="225.3" y2="323.1" stroke="#000" stroke-width="1"/>
<line x1="225.3" y1="79.7" x2="225.3" y2="83.7" stroke="#000" stroke-width="1"/>
<text x="224.6" y="335.7" font-family="Liberation Sans, sans-serif" font-size="12.8" fill="#1a1a1a" text-anchor="middle" textLength="14.9" lengthAdjust="spacingAndGlyphs">10</text>
<line x1="264.4" y1="319.1" x2="264.4" y2="323.1" stroke="#000" stroke-width="1"/>
<line x1="264.4" y1="79.7" x2="264.4" y2="83.7" stroke="#000" stroke-width="1"/>
<text x="263.7" y="335.7" font-family="Liberation Sans, sans-serif" font-size="12.8" fill="#1a1a1a" text-anchor="middle" textLength="27.0" lengthAdjust="spacingAndGlyphs">12.5</text>
<line x1="303.5" y1="319.1" x2="303.5" y2="323.1" stroke="#000" stroke-width="1"/>
<line x1="303.5" y1="79.7" x2="303.5" y2="83.7" stroke="#000" stroke-width="1"/>
<text x="302.8" y="335.7" font-family="Liberation Sans, sans-serif" font-size="12.8" fill="#1a1a1a" text-anchor="middle" textLength="14.9" lengthAdjust="spacingAndGlyphs">15</text>
<line x1="342.6" y1="319.1" x2="342.6" y2="323.1" stroke="#000" stroke-width="1"/>
<line x1="342.6" y1="79.7" x2="342.6" y2="83.7" stroke="#000" stroke-width="1"/>
<text x="341.9" y="335.7" font-family="Liberation Sans, sans-serif" font-size="12.8" fill="#1a1a1a" text-anchor="middle" textLength="27.0" lengthAdjust="spacingAndGlyphs">17.5</text>
<line x1="381.7" y1="319.1" x2="381.7" y2="323.1" stroke="#000" stroke-width="1"/>
<line x1="381.7" y1="79.7" x2="381.7" y2="83.7" stroke="#000" stroke-width="1"/>
<text x="381.0" y="335.7" font-family="Liberation Sans, sans-serif" font-size="12.8" fill="#1a1a1a" text-anchor="middle" textLength="14.9" lengthAdjust="spacingAndGlyphs">20</text>
<line x1="420.8" y1="319.1" x2="420.8" y2="323.1" stroke="#000" stroke-width="1"/>
<line x1="420.8" y1="79.7" x2="420.8" y2="83.7" stroke="#000" stroke-width="1"/>
<text x="420.1" y="335.7" font-family="Liberation Sans, sans-serif" font-size="12.8" fill="#1a1a1a" text-anchor="middle" textLength="27.0" lengthAdjust="spacingAndGlyphs">22.5</text>
<line x1="459.9" y1="319.1" x2="459.9" y2="323.1" stroke="#000" stroke-width="1"/>
<line x1="459.9" y1="79.7" x2="459.9" y2="83.7" stroke="#000" stroke-width="1"/>
<text x="459.2" y="335.7" font-family="Liberation Sans, sans-serif" font-size="12.8" fill="#1a1a1a" text-anchor="middle" textLength="14.9" lengthAdjust="spacingAndGlyphs">25</text>
<line x1="499.0" y1="319.1" x2="499.0" y2="323.1" stroke="#000" stroke-width="1"/>
<line x1="499.0" y1="79.7" x2="499.0" y2="83.7" stroke="#000" stroke-width="1"/>
<text x="498.3" y="335.7" font-family="Liberation Sans, sans-serif" font-size="12.8" fill="#1a1a1a" text-anchor="middle" textLength="27.0" lengthAdjust="spacingAndGlyphs">27.5</text>
<line x1="538.1" y1="319.1" x2="538.1" y2="323.1" stroke="#000" stroke-width="1"/>
<line x1="538.1" y1="79.7" x2="538.1" y2="83.7" stroke="#000" stroke-width="1"/>
<text x="537.4" y="335.7" font-family="Liberation Sans, sans-serif" font-size="12.8" fill="#1a1a1a" text-anchor="middle" textLength="14.9" lengthAdjust="spacingAndGlyphs">30</text>
<line x1="577.2" y1="319.1" x2="577.2" y2="323.1" stroke="#000" stroke-width="1"/>
<line x1="577.2" y1="79.7" x2="577.2" y2="83.7" stroke="#000" stroke-width="1"/>
<text x="576.5" y="335.7" font-family="Liberation Sans, sans-serif" font-size="12.8" fill="#1a1a1a" text-anchor="middle" textLength="27.0" lengthAdjust="spacingAndGlyphs">32.5</text>
<line x1="616.3" y1="319.1" x2="616.3" y2="323.1" stroke="#000" stroke-width="1"/>
<line x1="616.3" y1="79.7" x2="616.3" y2="83.7" stroke="#000" stroke-width="1"/>
<text x="615.6" y="335.7" font-family="Liberation Sans, sans-serif" font-size="12.8" fill="#1a1a1a" text-anchor="middle" textLength="14.9" lengthAdjust="spacingAndGlyphs">35</text>
<line x1="655.4" y1="319.1" x2="655.4" y2="323.1" stroke="#000" stroke-width="1"/>
<line x1="655.4" y1="79.7" x2="655.4" y2="83.7" stroke="#000" stroke-width="1"/>
<text x="654.7" y="335.7" font-family="Liberation Sans, sans-serif" font-size="12.8" fill="#1a1a1a" text-anchor="middle" textLength="27.0" lengthAdjust="spacingAndGlyphs">37.5</text>
<line x1="694.5" y1="319.1" x2="694.5" y2="323.1" stroke="#000" stroke-width="1"/>
<line x1="694.5" y1="79.7" x2="694.5" y2="83.7" stroke="#000" stroke-width="1"/>
<text x="693.8" y="335.7" font-family="Liberation Sans, sans-serif" font-size="12.8" fill="#1a1a1a" text-anchor="middle" textLength="14.9" lengthAdjust="spacingAndGlyphs">40</text>
<line x1="733.6" y1="319.1" x2="733.6" y2="323.1" stroke="#000" stroke-width="1"/>
<line x1="733.6" y1="79.7" x2="733.6" y2="83.7" stroke="#000" stroke-width="1"/>
<text x="732.9" y="335.7" font-family="Liberation Sans, sans-serif" font-size="12.8" fill="#1a1a1a" text-anchor="middle" textLength="27.0" lengthAdjust="spacingAndGlyphs">42.5</text>
<line x1="772.7" y1="319.1" x2="772.7" y2="323.1" stroke="#000" stroke-width="1"/>
<line x1="772.7" y1="79.7" x2="772.7" y2="83.7" stroke="#000" stroke-width="1"/>
<text x="772.0" y="335.7" font-family="Liberation Sans, sans-serif" font-size="12.8" fill="#1a1a1a" text-anchor="middle" textLength="14.9" lengthAdjust="spacingAndGlyphs">45</text>
<text x="64.4" y="326.5" font-family="Liberation Sans, sans-serif" font-size="12.8" fill="#1a1a1a" text-anchor="end" textLength="7.9" lengthAdjust="spacingAndGlyphs">0</text>
<line x1="68.9" y1="303.6" x2="72.9" y2="303.6" stroke="#000" stroke-width="1"/>
<line x1="787.6" y1="303.6" x2="791.6" y2="303.6" stroke="#000" stroke-width="1"/>
<text x="64.4" y="307.1" font-family="Liberation Sans, sans-serif" font-size="12.8" fill="#1a1a1a" text-anchor="end" textLength="15.8" lengthAdjust="spacingAndGlyphs">20</text>
<line x1="68.9" y1="284.3" x2="72.9" y2="284.3" stroke="#000" stroke-width="1"/>
<line x1="787.6" y1="284.3" x2="791.6" y2="284.3" stroke="#000" stroke-width="1"/>
<text x="64.4" y="287.8" font-family="Liberation Sans, sans-serif" font-size="12.8" fill="#1a1a1a" text-anchor="end" textLength="15.8" lengthAdjust="spacingAndGlyphs">40</text>
<line x1="68.9" y1="264.9" x2="72.9" y2="264.9" stroke="#000" stroke-width="1"/>
<line x1="787.6" y1="264.9" x2="791.6" y2="264.9" stroke="#000" stroke-width="1"/>
<text x="64.4" y="268.4" font-family="Liberation Sans, sans-serif" font-size="12.8" fill="#1a1a1a" text-anchor="end" textLength="15.8" lengthAdjust="spacingAndGlyphs">60</text>
<line x1="68.9" y1="245.5" x2="72.9" y2="245.5" stroke="#000" stroke-width="1"/>
<line x1="787.6" y1="245.5" x2="791.6" y2="245.5" stroke="#000" stroke-width="1"/>
<text x="64.4" y="249.0" font-family="Liberation Sans, sans-serif" font-size="12.8" fill="#1a1a1a" text-anchor="end" textLength="15.8" lengthAdjust="spacingAndGlyphs">80</text>
<line x1="68.9" y1="226.2" x2="72.9" y2="226.2" stroke="#000" stroke-width="1"/>
<line x1="787.6" y1="226.2" x2="791.6" y2="226.2" stroke="#000" stroke-width="1"/>
<text x="64.4" y="229.7" font-family="Liberation Sans, sans-serif" font-size="12.8" fill="#1a1a1a" text-anchor="end" textLength="23.7" lengthAdjust="spacingAndGlyphs">100</text>
<line x1="68.9" y1="206.8" x2="72.9" y2="206.8" stroke="#000" stroke-width="1"/>
<line x1="787.6" y1="206.8" x2="791.6" y2="206.8" stroke="#000" stroke-width="1"/>
<text x="64.4" y="210.3" font-family="Liberation Sans, sans-serif" font-size="12.8" fill="#1a1a1a" text-anchor="end" textLength="23.7" lengthAdjust="spacingAndGlyphs">120</text>
<line x1="68.9" y1="187.5" x2="72.9" y2="187.5" stroke="#000" stroke-width="1"/>
<line x1="787.6" y1="187.5" x2="791.6" y2="187.5" stroke="#000" stroke-width="1"/>
<text x="64.4" y="191.0" font-family="Liberation Sans, sans-serif" font-size="12.8" fill="#1a1a1a" text-anchor="end" textLength="23.7" lengthAdjust="spacingAndGlyphs">140</text>
<line x1="68.9" y1="168.1" x2="72.9" y2="168.1" stroke="#000" stroke-width="1"/>
<line x1="787.6" y1="168.1" x2="791.6" y2="168.1" stroke="#000" stroke-width="1"/>
<text x="64.4" y="171.6" font-family="Liberation Sans, sans-serif" font-size="12.8" fill="#1a1a1a" text-anchor="end" textLength="23.7" lengthAdjust="spacingAndGlyphs">160</text>
<line x1="68.9" y1="148.7" x2="72.9" y2="148.7" stroke="#000" stroke-width="1"/>
<line x1="787.6" y1="148.7" x2="791.6" y2="148.7" stroke="#000" stroke-width="1"/>
<text x="64.4" y="152.2" font-family="Liberation Sans, sans-serif" font-size="12.8" fill="#1a1a1a" text-anchor="end" textLength="23.7" lengthAdjust="spacingAndGlyphs">180</text>
<line x1="68.9" y1="129.4" x2="72.9" y2="129.4" stroke="#000" stroke-width="1"/>
<line x1="787.6" y1="129.4" x2="791.6" y2="129.4" stroke="#000" stroke-width="1"/>
<text x="64.4" y="132.9" font-family="Liberation Sans, sans-serif" font-size="12.8" fill="#1a1a1a" text-anchor="end" textLength="23.7" lengthAdjust="spacingAndGlyphs">200</text>
<line x1="68.9" y1="110.0" x2="72.9" y2="110.0" stroke="#000" stroke-width="1"/>
<line x1="787.6" y1="110.0" x2="791.6" y2="110.0" stroke="#000" stroke-width="1"/>
<text x="64.4" y="113.5" font-family="Liberation Sans, sans-serif" font-size="12.8" fill="#1a1a1a" text-anchor="end" textLength="23.7" lengthAdjust="spacingAndGlyphs">220</text>
<text transform="translate(31.6,201.5) rotate(-90)" font-family="Liberation Sans, sans-serif" font-size="12.2" fill="#151515" text-anchor="middle" textLength="212" lengthAdjust="spacingAndGlyphs">Height Above Sea Level (meters)</text>
<text x="429.5" y="350.7" font-family="Liberation Sans, sans-serif" font-size="12.2" fill="#151515" text-anchor="middle" textLength="176.5" lengthAdjust="spacingAndGlyphs">Range on path (kilometers)</text>
<text x="75" y="93" font-family="Liberation Sans, sans-serif" font-size="12.3" textLength="45.6" lengthAdjust="spacingAndGlyphs">Ponto A</text>
<text x="783.6" y="93" font-family="Liberation Sans, sans-serif" font-size="12.3" text-anchor="end" textLength="45.6" lengthAdjust="spacingAndGlyphs">Ponto B</text>
<rect x="420.8" y="101.2" width="119.8" height="221.3" fill="none" stroke="#000" stroke-width="5.2"/>
</svg>
<svg width="800" height="583" viewBox="0 0 800 583" style="position:absolute;left:0;top:0;pointer-events:none">
<g fill="none" stroke="#0a0a14" stroke-width="1.7">
<path d="M789.2,51.6 L792.5,48.3 L795.8,51.6"/><path d="M789.2,55.8 L792.5,52.5 L795.8,55.8"/>
<path d="M789.2,386 L792.5,382.7 L795.8,386"/><path d="M789.2,390.2 L792.5,386.9 L795.8,390.2"/>
</g>
<rect x="107.7" y="441.4" width="503.2" height="28.4" fill="none" stroke="#000" stroke-width="5"/>
</svg>
</div>
</body></html>
